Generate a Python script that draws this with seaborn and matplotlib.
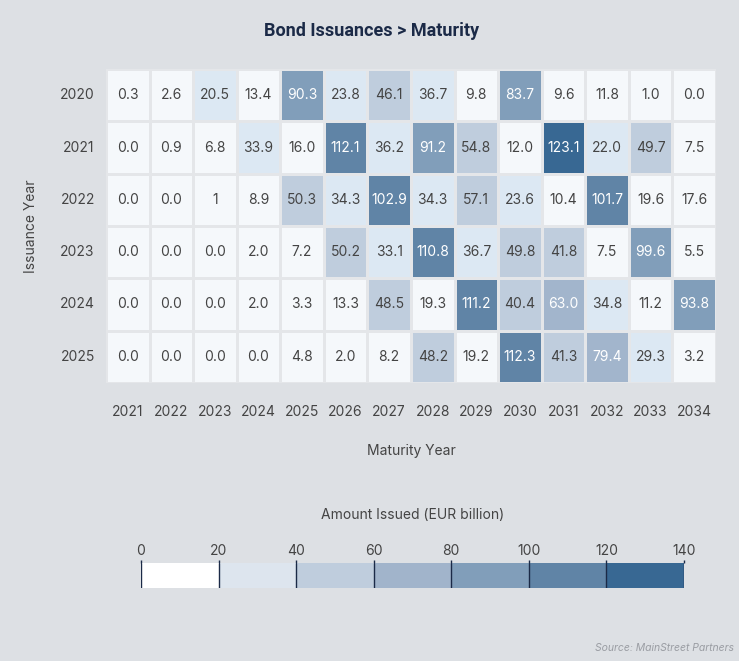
import numpy as np
import pandas as pd
import matplotlib
matplotlib.use("Agg")
import matplotlib.pyplot as plt
import seaborn as sns
from matplotlib.colors import ListedColormap, BoundaryNorm
from matplotlib.cm import ScalarMappable

# data
issuance_years = [2020, 2021, 2022, 2023, 2024, 2025]
maturity_years = list(range(2021, 2035))
cell_text = [
    ["0.3", "2.6", "20.5", "13.4", "90.3", "23.8", "46.1", "36.7", "9.8", "83.7", "9.6", "11.8", "1.0", "0.0"],
    ["0.0", "0.9", "6.8", "33.9", "16.0", "112.1", "36.2", "91.2", "54.8", "12.0", "123.1", "22.0", "49.7", "7.5"],
    ["0.0", "0.0", "1", "8.9", "50.3", "34.3", "102.9", "34.3", "57.1", "23.6", "10.4", "101.7", "19.6", "17.6"],
    ["0.0", "0.0", "0.0", "2.0", "7.2", "50.2", "33.1", "110.8", "36.7", "49.8", "41.8", "7.5", "99.6", "5.5"],
    ["0.0", "0.0", "0.0", "2.0", "3.3", "13.3", "48.5", "19.3", "111.2", "40.4", "63.0", "34.8", "11.2", "93.8"],
    ["0.0", "0.0", "0.0", "0.0", "4.8", "2.0", "8.2", "48.2", "19.2", "112.3", "41.3", "79.4", "29.3", "3.2"],
]
bounds = [0, 20, 40, 60, 80, 100, 120, 140]
cell_colors = ["#f5f8fb", "#dce8f3", "#bfcddd", "#a2b5cc", "#819eba", "#6084a6", "#386893"]
bar_colors = ["#ffffff", "#dde5ee", "#bfcddd", "#a1b4cb", "#819eba", "#6084a6", "#386893"]

bg = "#dde0e4"
df = pd.DataFrame(np.array(cell_text, dtype=float), index=issuance_years, columns=maturity_years)

sns.set_theme(style="white")
plt.rcParams["font.family"] = ["Inter", "DejaVu Sans"]

fig = plt.figure(figsize=(7.39, 6.61), dpi=100, facecolor=bg)
ax = fig.add_axes([0.1434, 0.4206, 0.8254, 0.475])
ax.set_facecolor(bg)

norm = BoundaryNorm(bounds, len(cell_colors))
sns.heatmap(df, ax=ax, cmap=ListedColormap(cell_colors), norm=norm, cbar=False,
            annot=np.array(cell_text), fmt="", linewidths=2, linecolor="#e4e6e9",
            annot_kws={"fontsize": 10})

# white text on the darker cells
for t, v in zip(ax.texts, df.values.ravel()):
    t.set_color("white" if v >= 60 else "#444444")

ax.tick_params(axis="x", length=0, pad=16, labelsize=10, colors="#444444", rotation=0)
ax.tick_params(axis="y", length=0, pad=8, labelsize=10, colors="#444444", rotation=0)
ax.set_xlabel("Maturity Year", fontsize=10, color="#444444", labelpad=18)
ax.set_ylabel("Issuance Year", fontsize=10, color="#444444", labelpad=16)

fig.text(0.503, 0.953, "Bond Issuances > Maturity", ha="center", va="center",
         fontsize=13, fontweight="bold", color="#1b2a47", family=["Roboto", "DejaVu Sans"])

# colour legend
cax = fig.add_axes([0.1908, 0.1104, 0.7348, 0.0378])
sm = ScalarMappable(norm=BoundaryNorm(bounds, len(bar_colors)), cmap=ListedColormap(bar_colors))
cb = fig.colorbar(sm, cax=cax, orientation="horizontal", ticks=bounds)
cb.outline.set_visible(False)
cax.xaxis.set_ticks_position("top")
cax.tick_params(axis="x", length=2.5, width=1, color="#1b2a47", labelsize=10, labelcolor="#444444", pad=1)
for b in bounds:
    cax.axvline(b, color="#1b2a47", lw=1)
fig.text(0.559, 0.221, "Amount Issued (EUR billion)", ha="center", va="center",
         fontsize=10, color="#444444")

fig.text(0.993, 0.02, "Source: MainStreet Partners", ha="right", va="center",
         fontsize=7.5, style="italic", color="#9a9da3")

fig.savefig("out.png", dpi=100, facecolor=bg)
